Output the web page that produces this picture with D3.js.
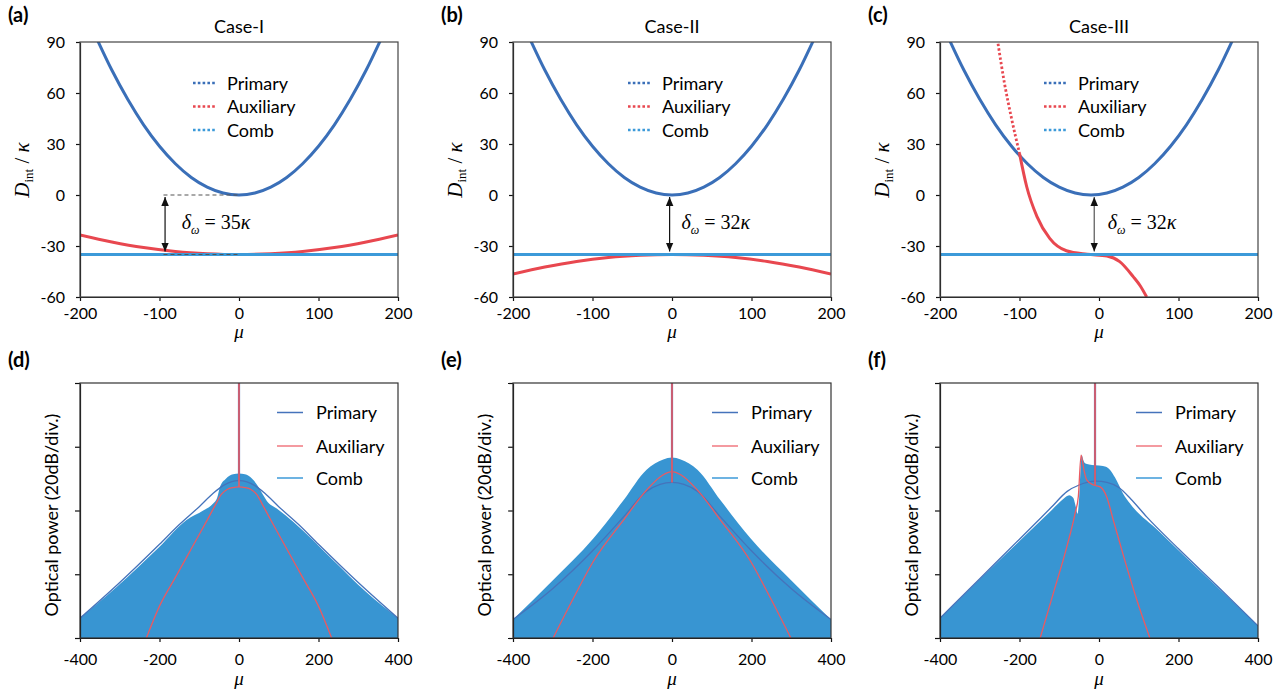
<!DOCTYPE html>
<html>
<head>
<meta charset="utf-8">
<title>Dint and spectra</title>
<script src="https://d3js.org/d3.v7.min.js"></script>
<style>
    body { margin: 0; background: #fff; }
    svg { font-family: Lato, "Open Sans", sans-serif; }
    .tick text { font-size: 16px; fill: #000; font-family: Lato, "Open Sans", sans-serif; }
    .tick line, .domain { stroke: #111; stroke-width: 1.2; }
    .serif { font-family: "Liberation Serif", "DejaVu Serif", serif; }
</style>
</head>
<body>
<svg id="chart" width="1287" height="690"></svg>
<script>
// ---------- data ----------
var muTicksTop = [-200, -100, 0, 100, 200];
var dTicksTop = [-60, -30, 0, 30, 60, 90];
var muTicksBottom = [-400, -200, 0, 200, 400];
var powerTicks = [0, 1, 2, 3, 4];          // 20 dB per division

var caseTitles = ["Case-I", "Case-II", "Case-III"];
var topLabels = ["(a)", "(b)", "(c)"];
var bottomLabels = ["(d)", "(e)", "(f)"];
var legendNames = ["Primary", "Auxiliary", "Comb"];

// top row: integrated dispersion D_int / kappa
var primaryMuAB = [-185, -160, -140, -120, -100, -80, -60, -40, -20, 0, 20, 40, 60, 80, 100, 120, 140, 160, 185];
var primaryAB   = [98.2, 73.5, 56.3, 41.3, 28.7, 18.4, 10.3, 4.6, 1.15, 0, 1.15, 4.6, 10.3, 18.4, 28.7, 41.3, 56.3, 73.5, 98.2];
var primaryMuC  = [-195, -170, -150, -130, -110, -90, -70, -50, -30, -10, 10, 30, 50, 70, 90, 110, 130, 150, 175];
var primaryC    = [98.2, 73.5, 56.3, 41.3, 28.7, 18.4, 10.3, 4.6, 1.15, 0, 1.15, 4.6, 10.3, 18.4, 28.7, 41.3, 56.3, 73.5, 98.2];

var auxMuA = [-200, -160, -120, -80, -40, 0, 40, 80, 120, 160, 200];
var auxA   = [-23.5, -27.6, -30.9, -33.2, -34.5, -35, -34.5, -33.2, -30.9, -27.6, -23.5];
var auxMuB = [-200, -160, -120, -80, -40, 0, 40, 80, 120, 160, 200];
var auxB   = [-46.5, -42.4, -39.1, -36.8, -35.5, -35, -35.5, -36.8, -39.1, -42.4, -46.5];
var auxMuC = [-127, -119, -110, -100, -91, -78, -62, -41, -15, 10, 26, 43, 52, 60];
var auxC   = [89, 66, 45, 24.5, 5, -12.7, -25.5, -32.8, -34.9, -35.9, -39.2, -48, -53.5, -60];

var combLevel = [-35, -35, -35];
var gapValue = ["35", "32", "32"];
var arrowMu = [-93, -3, -6];
var gapTextMu = [-72, 12, 11];

// bottom row: spectra (divisions of 20 dB)
var combMuD = [-400, -308, -200, -132, -90, -65, -55, -48, -33, -15, 0, 15, 33, 49, 60, 70, 95, 137, 237, 320, 400];
var combD   = [0.31, 0.80, 1.43, 1.85, 2.0, 2.11, 2.2, 2.37, 2.5, 2.57, 2.58, 2.57, 2.5, 2.37, 2.25, 2.15, 2.03, 1.82, 1.22, 0.72, 0.31];
var primMuD = [-400, -300, -200, -150, -100, -65, -40, -20, 0, 20, 40, 65, 100, 150, 200, 300, 400];
var primD   = [0.31, 0.87, 1.47, 1.78, 2.06, 2.27, 2.39, 2.45, 2.47, 2.45, 2.39, 2.27, 2.06, 1.78, 1.47, 0.87, 0.31];
var auxMuD  = [-233, -200, -160, -120, -80, -60, -45, -30, -15, 0, 15, 30, 45, 60, 80, 120, 160, 200, 233];
var auxD    = [0, 0.5, 0.95, 1.4, 1.85, 2.08, 2.25, 2.33, 2.36, 2.37, 2.36, 2.33, 2.25, 2.08, 1.85, 1.4, 0.95, 0.5, 0];

var combMuE = [-400, -299, -198, -122, -64, -22, 0, 22, 64, 122, 198, 299, 400];
var combE   = [0.29, 0.91, 1.56, 2.16, 2.64, 2.80, 2.83, 2.80, 2.64, 2.16, 1.56, 0.91, 0.29];
var primMuE = [-400, -299, -198, -122, -64, -30, 0, 30, 64, 122, 198, 299, 400];
var primE   = [0.29, 0.78, 1.38, 1.9, 2.3, 2.41, 2.44, 2.41, 2.3, 1.9, 1.38, 0.78, 0.29];
var auxMuE  = [-299, -250, -198, -122, -64, -22, 0, 22, 64, 122, 198, 250, 299];
var auxE    = [0, 0.6, 1.2, 1.85, 2.32, 2.56, 2.61, 2.56, 2.32, 1.85, 1.2, 0.6, 0];

var combMuF = [-400, -300, -200, -120, -90, -75, -65, -58, -54, -50, -46, -43.5, -40, -35, -25, -10, 10, 20, 30, 40, 50, 60, 78, 150, 250, 350, 400];
var combF   = [0.31, 0.92, 1.52, 2.0, 2.18, 2.24, 2.2, 2.05, 1.95, 2.2, 2.7, 2.87, 2.8, 2.74, 2.72, 2.71, 2.70, 2.68, 2.62, 2.52, 2.4, 2.27, 2.11, 1.68, 1.08, 0.49, 0.19];
var primMuF = [-400, -300, -200, -120, -80, -50, -30, -8, 20, 50, 80, 120, 200, 300, 400];
var primF   = [0.31, 0.93, 1.55, 2.05, 2.3, 2.4, 2.44, 2.46, 2.44, 2.36, 2.18, 1.9, 1.4, 0.8, 0.19];
var auxMuF  = [-148, -115, -81, -60, -52, -45, -38, -31, -14, 3, 19, 36, 62, 95, 128];
var auxF    = [0, 0.7, 1.43, 1.96, 2.22, 2.87, 2.64, 2.48, 2.4, 2.37, 2.22, 1.85, 1.28, 0.6, 0];

var pumpMu = [0, 0, -10];
var pumpBase = [2.37, 2.44, 2.4];

// ---------- layout ----------
var panelX = [[80, 398], [513, 831], [940, 1258]];
var topY = [297, 42];
var botY = [638, 383];

var colPrimary = "#3a6fb8", colAux = "#e8474f", colComb = "#3c9ad9";
var colPrimaryThin = "#4573bb", colAuxThin = "#ea5a62", colFill = "#3895d2";

function zip(a, b) { return a.map(function(v, i) { return [v, b[i]]; }); }
function plain(d) { return String(d); }   // keep the short hyphen as in the figure

var svg = d3.select("#chart");
var defs = svg.append("defs");
defs.append("marker")
    .attr("id", "arrow")
    .attr("viewBox", "0 0 10 10")
    .attr("refX", 10).attr("refY", 5)
    .attr("markerWidth", 9).attr("markerHeight", 9)
    .attr("markerUnits", "userSpaceOnUse")
    .attr("orient", "auto-start-reverse")
    .append("path").attr("d", "M0,0.8L10,5L0,9.2z").attr("fill", "#111");

var topSets = [
    {pMu: primaryMuAB, p: primaryAB, aMu: auxMuA, a: auxA},
    {pMu: primaryMuAB, p: primaryAB, aMu: auxMuB, a: auxB},
    {pMu: primaryMuC, p: primaryC, aMu: auxMuC, a: auxC}
];
var botSets = [
    {cMu: combMuD, c: combD, pMu: primMuD, p: primD, aMu: auxMuD, a: auxD},
    {cMu: combMuE, c: combE, pMu: primMuE, p: primE, aMu: auxMuE, a: auxE},
    {cMu: combMuF, c: combF, pMu: primMuF, p: primF, aMu: auxMuF, a: auxF}
];

// ---------- top row ----------
topSets.forEach(function(s, i) {
    var x0 = panelX[i][0], x1 = panelX[i][1];
    var x = d3.scaleLinear().domain([-200, 200]).range([x0, x1]);
    var y = d3.scaleLinear().domain([-60, 90]).range(topY);
    var g = svg.append("g");

    defs.append("clipPath").attr("id", "clipT" + i)
        .append("rect").attr("x", x0).attr("y", topY[1]).attr("width", x1 - x0).attr("height", topY[0] - topY[1]);

    var line = d3.line().x(function(d) { return x(d[0]); }).y(function(d) { return y(d[1]); }).curve(d3.curveMonotoneX);
    var plot = g.append("g").attr("clip-path", "url(#clipT" + i + ")");

    plot.append("path").attr("d", line(zip(s.pMu, s.p)))
        .attr("fill", "none").attr("stroke", colPrimary).attr("stroke-width", 3);

    var aux = zip(s.aMu, s.a);
    if (i === 2) {
        // steep part shows up as separate dots
        plot.append("path").attr("d", line(aux.filter(function(d) { return d[0] <= -100; })))
            .attr("fill", "none").attr("stroke", colAux).attr("stroke-width", 2.8).attr("stroke-dasharray", "2.4,2.2");
        plot.append("path").attr("d", line(aux.filter(function(d) { return d[0] >= -100; })))
            .attr("fill", "none").attr("stroke", colAux).attr("stroke-width", 3);
    } else {
        plot.append("path").attr("d", line(aux))
            .attr("fill", "none").attr("stroke", colAux).attr("stroke-width", 3);
    }

    plot.append("line")
        .attr("x1", x(-200)).attr("x2", x(200))
        .attr("y1", y(combLevel[i])).attr("y2", y(combLevel[i]))
        .attr("stroke", colComb).attr("stroke-width", 3);

    if (i === 0) {
        [0, combLevel[i]].forEach(function(v) {
            g.append("line").attr("x1", x(-95)).attr("x2", x(0)).attr("y1", y(v)).attr("y2", y(v))
                .attr("stroke", "#555").attr("stroke-width", 1.1).attr("stroke-dasharray", "4,3");
        });
    }

    // gap arrow
    g.append("line")
        .attr("x1", x(arrowMu[i])).attr("x2", x(arrowMu[i]))
        .attr("y1", y(-1.2)).attr("y2", y(combLevel[i] + 1.7))
        .attr("stroke", i === 2 ? "#555" : "#111").attr("stroke-width", 1.2)
        .attr("marker-start", "url(#arrow)").attr("marker-end", "url(#arrow)");

    var gt = g.append("text").attr("class", "serif")
        .attr("x", x(gapTextMu[i])).attr("y", y(-20))
        .style("font-size", "20px");
    gt.append("tspan").style("font-style", "italic").text("δ");
    gt.append("tspan").style("font-style", "italic").style("font-size", "12px").attr("dy", 5).text("ω");
    gt.append("tspan").attr("dy", -5).text(" = " + gapValue[i]);
    gt.append("tspan").style("font-style", "italic").text("κ");

    // axes
    g.append("g").attr("transform", "translate(0," + topY[0] + ")")
        .call(d3.axisBottom(x).tickValues(muTicksTop).tickFormat(plain).tickSize(4).tickSizeOuter(0).tickPadding(7));
    g.append("g").attr("transform", "translate(" + x0 + ",0)")
        .call(d3.axisLeft(y).tickValues(dTicksTop).tickFormat(plain).tickSize(4).tickSizeOuter(0).tickPadding(11));
    g.append("rect").attr("x", x0).attr("y", topY[1]).attr("width", x1 - x0).attr("height", topY[0] - topY[1])
        .attr("fill", "none").attr("stroke", "#444").attr("stroke-width", 1.2);

    // legend (dotted keys)
    var legOff = [113, 115, 104][i];
    var keyCols = [colPrimary, colAux, colComb];
    legendNames.forEach(function(n, k) {
        var ly = 83 + k * 23.5;
        g.append("line").attr("x1", x0 + legOff).attr("x2", x0 + legOff + 23).attr("y1", ly).attr("y2", ly)
            .attr("stroke", keyCols[k]).attr("stroke-width", 2.6).attr("stroke-dasharray", "2.6,2.2");
        g.append("text").attr("x", x0 + legOff + 34).attr("y", ly + 6.5).style("font-size", "18px").text(n);
    });

    // labels
    g.append("text").attr("x", (x0 + x1) / 2).attr("y", 33).attr("text-anchor", "middle")
        .style("font-size", "18px").text(caseTitles[i]);
    g.append("text").attr("x", x0 - 72).attr("y", 22).style("font-size", "20px").style("font-weight", "bold")
        .text(topLabels[i]);
    g.append("text").attr("class", "serif").attr("x", (x0 + x1) / 2).attr("y", 338).attr("text-anchor", "middle")
        .style("font-size", "19px").style("font-style", "italic").text("μ");

    var yl = g.append("text").attr("class", "serif")
        .attr("transform", "translate(" + (x0 - 51) + ",170) rotate(-90)")
        .attr("text-anchor", "middle").style("font-size", "21px");
    yl.append("tspan").style("font-style", "italic").text("D");
    yl.append("tspan").attr("dy", 4).style("font-size", "13px").text("int");
    yl.append("tspan").attr("dy", -4).text("  / ");
    yl.append("tspan").style("font-style", "italic").text("κ");
});

// ---------- bottom row ----------
botSets.forEach(function(s, i) {
    var x0 = panelX[i][0], x1 = panelX[i][1];
    var x = d3.scaleLinear().domain([-400, 400]).range([x0, x1]);
    var y = d3.scaleLinear().domain([0, 4]).range(botY);
    var g = svg.append("g");

    defs.append("clipPath").attr("id", "clipB" + i)
        .append("rect").attr("x", x0).attr("y", botY[1]).attr("width", x1 - x0).attr("height", botY[0] - botY[1]);
    var plot = g.append("g").attr("clip-path", "url(#clipB" + i + ")");

    var area = d3.area().x(function(d) { return x(d[0]); }).y0(y(0)).y1(function(d) { return y(d[1]); })
        .curve(d3.curveMonotoneX);
    var line = d3.line().x(function(d) { return x(d[0]); }).y(function(d) { return y(d[1]); })
        .curve(d3.curveMonotoneX);

    plot.append("path").attr("d", area(zip(s.cMu, s.c))).attr("fill", colFill);
    plot.append("path").attr("d", line(zip(s.pMu, s.p)))
        .attr("fill", "none").attr("stroke", colPrimaryThin).attr("stroke-width", 1.3);
    plot.append("path").attr("d", line(zip(s.aMu, s.a)))
        .attr("fill", "none").attr("stroke", colAuxThin).attr("stroke-width", 1.3);

    // pump lines
    var pTop = d3.max(s.p);
    plot.append("line").attr("x1", x(pumpMu[i])).attr("x2", x(pumpMu[i]))
        .attr("y1", y(pTop)).attr("y2", y(4)).attr("stroke", colPrimaryThin).attr("stroke-width", 2.2);
    plot.append("line").attr("x1", x(pumpMu[i])).attr("x2", x(pumpMu[i]))
        .attr("y1", y(pumpBase[i])).attr("y2", y(4)).attr("stroke", colAuxThin).attr("stroke-width", 1.6);

    g.append("g").attr("transform", "translate(0," + botY[0] + ")")
        .call(d3.axisBottom(x).tickValues(muTicksBottom).tickFormat(plain).tickSize(4).tickSizeOuter(0).tickPadding(12));
    g.append("g").attr("transform", "translate(" + x0 + ",0)")
        .call(d3.axisLeft(y).tickValues(powerTicks).tickSize(5).tickSizeOuter(0).tickFormat(""));
    g.append("rect").attr("x", x0).attr("y", botY[1]).attr("width", x1 - x0).attr("height", botY[0] - botY[1])
        .attr("fill", "none").attr("stroke", "#333").attr("stroke-width", 1.2);

    var legOff = [197, 199, 196][i];
    var keyCols = [colPrimaryThin, "#f07880", colComb];
    legendNames.forEach(function(n, k) {
        var ly = [412.5, 446, 478][k];
        g.append("line").attr("x1", x0 + legOff).attr("x2", x0 + legOff + 26).attr("y1", ly).attr("y2", ly)
            .attr("stroke", keyCols[k]).attr("stroke-width", 1.5);
        g.append("text").attr("x", x0 + legOff + 39).attr("y", ly + 6.5).style("font-size", "18px").text(n);
    });

    g.append("text").attr("x", x0 - 72).attr("y", 367).style("font-size", "20px").style("font-weight", "bold")
        .text(bottomLabels[i]);
    g.append("text").attr("class", "serif").attr("x", (x0 + x1) / 2).attr("y", 685).attr("text-anchor", "middle")
        .style("font-size", "19px").style("font-style", "italic").text("μ");
    g.append("text")
        .attr("transform", "translate(" + (x0 - 22) + ",515) rotate(-90)")
        .attr("text-anchor", "middle").style("font-size", "18px").text("Optical power (20dB/div.)");
});
</script>
</body>
</html>
